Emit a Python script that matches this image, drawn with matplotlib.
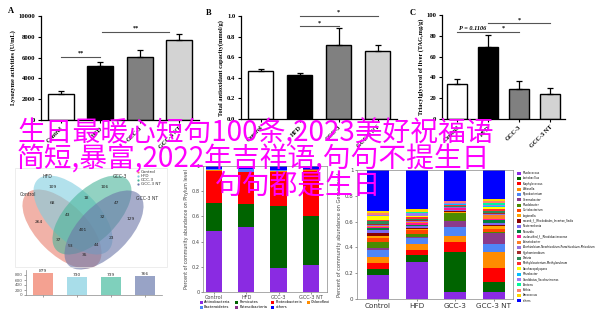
import numpy as np
import matplotlib.pyplot as plt
from matplotlib.patches import Ellipse, Patch, Rectangle

W, H = 600, 311
fig = plt.figure(figsize=(6, 3.11), dpi=100)

groups = ["Control", "HFD", "GCC-3", "GCC-3 NT"]
bar_colors = ["white", "black", "#808080", "#d3d3d3"]

# panel A-C: mean and upper error
lyso_mean = [2500, 5150, 6100, 7650]
lyso_err = [250, 450, 650, 650]
tac_mean = [0.47, 0.43, 0.72, 0.665]
tac_err = [0.02, 0.02, 0.16, 0.055]
tag_mean = [34, 69, 29, 24]
tag_err = [4, 12, 8, 6]

# significance brackets (from, to, height, label)
sig_a = [(0, 1, 6050, "**"), (1.05, 2.75, 8450, "**")]
sig_b = [(1, 2, 0.90, "*"), (1, 3, 1.0, "*")]
sig_c = [(0, 1, 84, "P = 0.1106"), (1, 2, 84, "*"), (1, 3, 92, "*")]

# venn
venn_counts = [109, 106, 68, 18, 47, 43, 32, 264, 129, 401, 37, 23, 53, 44, 35]
venn_pos = [(53, 187), (105, 187), (52, 203), (86, 198), (117, 203), (68, 215),
            (102, 217), (39, 222), (131, 219), (83, 230), (58, 240), (111, 238),
            (70, 246), (97, 245), (85, 255)]
venn_colors = ["#e8806e", "#7fcde0", "#4ab59a", "#6b76a8"]
otu_totals = [879, 730, 739, 766]
otu_colors = ["#f4a191", "#a8dde9", "#7fd0bc", "#98a3c6"]

# phylum level
phyla = ["Actinobacteria", "Firmicutes", "Proteobacteria", "Chloroflexi",
         "Bacteroidetes", "Patescibacteria", "others"]
phylum_colors = ["#8a2be2", "#006400", "#ff0000", "#ff8c00", "#4f86f7", "#8b2f8b", "#0000ff"]
actino = [0.485, 0.512, 0.190, 0.218]
firmi = [0.218, 0.186, 0.494, 0.387]
proteo = [0.260, 0.252, 0.266, 0.358]
chloro = [0.005, 0.006, 0.010, 0.004]
bactero = [0.008, 0.020, 0.008, 0.005]
patesci = [0.004, 0.004, 0.004, 0.005]
phylum_other = [0.020, 0.020, 0.028, 0.023]
phylum_vals = [actino, firmi, proteo, chloro, bactero, patesci, phylum_other]

# genus level
genera = ["Rhodococcus", "Lactobacillus", "Staphylococcus", "Weissella", "Mycobacterium",
          "Gemmobacter", "Rhodobacter", "Curtobacterium", "Legionella",
          "norank_f__Rhodobiales_Incertae_Sedis", "Nesterenkonia", "Nocardia",
          "unclassified_f__Rhodobacteraceae", "Acinetobacter",
          "Allorhizobium-Neorhizobium-Pararhizobium-Rhizobium", "Hyphomicrobium",
          "Dietzia", "Methylobacterium-Methylorubrum", "Saccharopolyspora",
          "Rhizobacter", "Candidatus_Saccharimonas", "Pantoea", "Rothia",
          "Aerococcus", "others"]
genus_colors = ["#8a2be2", "#006400", "#ff0000", "#ff8c00", "#4f86f7", "#8b3a8b",
                "#4b8b00", "#ff4500", "#ffa500", "#8b0000", "#7b68ee", "#008040",
                "#ff1493", "#ff7f24", "#9370db", "#a52a2a", "#2e8b57", "#ff3030",
                "#ffff00", "#00bfff", "#9f79ee", "#00fa9a", "#fa8072", "#ffd700",
                "#0000ff"]
genus_vals = [
    [0.186, 0.289, 0.057, 0.057],
    [0.044, 0.052, 0.310, 0.077],
    [0.047, 0.039, 0.073, 0.104],
    [0.045, 0.050, 0.050, 0.129],
    [0.060, 0.040, 0.066, 0.063],
    [0.012, 0.012, 0.051, 0.079],
    [0.045, 0.020, 0.057, 0.011],
    [0.030, 0.030, 0.006, 0.020],
    [0.020, 0.010, 0.008, 0.025],
    [0.020, 0.012, 0.005, 0.012],
    [0.025, 0.010, 0.004, 0.015],
    [0.015, 0.012, 0.006, 0.020],
    [0.010, 0.010, 0.010, 0.012],
    [0.008, 0.008, 0.006, 0.025],
    [0.010, 0.008, 0.004, 0.010],
    [0.008, 0.012, 0.004, 0.008],
    [0.020, 0.010, 0.006, 0.019],
    [0.010, 0.008, 0.005, 0.015],
    [0.025, 0.008, 0.004, 0.010],
    [0.005, 0.006, 0.005, 0.012],
    [0.005, 0.020, 0.005, 0.008],
    [0.005, 0.006, 0.003, 0.012],
    [0.010, 0.006, 0.012, 0.020],
    [0.020, 0.020, 0.003, 0.010],
    [0.315, 0.302, 0.240, 0.227],
]

overlay = ["生日最暖心短句100条,2023美好祝福语",
           "简短,暴富,2022年吉祥语,句句不提生日",
           "句句都是生日"]


def px_axes(x0, y0, x1, y1):
    return fig.add_axes([x0 / W, 1 - y1 / H, (x1 - x0) / W, (y1 - y0) / H])


serif = dict(family="Liberation Serif", weight="bold")


def bar_panel(ax, means, errs, ymax, step, fmt, ylabel, sigs, width):
    x = np.arange(4)
    ax.bar(x, means, width, color=bar_colors, edgecolor="black", linewidth=1,
           yerr=[np.zeros(4), errs], capsize=2.5,
           error_kw=dict(elinewidth=0.9, capthick=0.9, ecolor="black"))
    ax.set_xlim(-0.5, 3.5)
    ax.set_ylim(0, ymax)
    ticks = np.arange(0, ymax + step / 2, step)
    ax.set_yticks(ticks)
    ax.set_yticklabels([fmt.format(t) for t in ticks], fontsize=4.8, **serif)
    ax.set_xticks(x)
    ax.set_xticklabels(groups, rotation=45, ha="right", rotation_mode="anchor",
                       fontsize=4.5, **serif)
    ax.set_ylabel(ylabel, fontsize=4.6, labelpad=2, **serif)
    for s in ["top", "right"]:
        ax.spines[s].set_visible(False)
    for s in ["left", "bottom"]:
        ax.spines[s].set_linewidth(0.9)
    ax.tick_params(length=2.5, width=0.8, pad=1.5)
    ax.set_facecolor("none")
    for a, b, y, s in sigs:
        ax.plot([a, b], [y, y], color="#555555", lw=0.8, clip_on=False)
        style = "italic" if s.startswith("P") else "normal"
        ax.text((a + b) / 2, y + ymax * 0.01, s, ha="center", va="bottom",
                fontsize=4.5, style=style, family="Liberation Serif", weight="bold")


axA = px_axes(41, 16, 199, 120)
bar_panel(axA, lyso_mean, lyso_err, 10000, 2000, "{:.0f}",
          "Lysozyme activities (U/mL)", sig_a, 0.65)
axB = px_axes(241, 16, 397, 119)
bar_panel(axB, tac_mean, tac_err, 1.0, 0.2, "{:.1f}",
          "Total antioxidant capacity(mmol/g)", sig_b, 0.65)
axC = px_axes(442, 15, 565, 119)
bar_panel(axC, tag_mean, tag_err, 100, 20, "{:.0f}",
          "Triacylglycerol of liver (TAG,mg/g)", sig_c, 0.65)
fig.text(8 / W, 1 - 11 / H, "A", fontsize=6, va="center", **serif)
fig.text(206 / W, 1 - 13 / H, "B", fontsize=6, va="center", **serif)
fig.text(410 / W, 1 - 13 / H, "C", fontsize=6, va="center", **serif)

# venn diagram
axV = px_axes(0, 165, 200, 270)
axV.set_xlim(0, 200)
axV.set_ylim(270, 165)
axV.axis("off")
for (cx, cy, ang), c in zip([(62, 229, 45), (73, 215, 45), (92, 215, -45), (104, 230, -45)],
                            venn_colors):
    axV.add_patch(Ellipse((cx, cy), 100, 50, angle=ang, facecolor=c, alpha=0.6,
                          edgecolor="none"))
for n, (x, y) in zip(venn_counts, venn_pos):
    axV.text(x, y, str(n), fontsize=3.2, ha="center", va="center", color="#222222")
for name, (x, y) in zip(groups, [(28, 194), (47, 177), (120, 176), (147, 198)]):
    axV.text(x, y, name, fontsize=3.3, ha="center", va="center", color="#333333")
for i, (name, c) in enumerate(zip(groups, venn_colors)):
    axV.plot(138, 172 + i * 4, "o", ms=1.6, color=c, mec="none")
    axV.text(141, 172 + i * 4, name, fontsize=3, va="center", color="#333333")
axV.add_patch(Rectangle((15, 168), 152, 99, fill=False, ec="#e6e6e6", lw=0.5))

axO = px_axes(26, 270, 162, 295)
xo = np.arange(4)
axO.bar(xo, otu_totals, 0.59, color=otu_colors)
for xi, v in zip(xo, otu_totals):
    axO.text(xi, v, str(v), fontsize=3.2, ha="center", va="bottom", color="#333333")
axO.set_xlim(-0.5, 3.5)
axO.set_ylim(0, 1000)
axO.set_yticks([0, 200, 400, 600, 800])
axO.set_xticks(xo)
axO.set_xticklabels([])
axO.tick_params(labelsize=3, length=1.5, width=0.4, pad=1, colors="#555555")
for s in ["top", "right"]:
    axO.spines[s].set_visible(False)
for s in ["left", "bottom"]:
    axO.spines[s].set_linewidth(0.5)
    axO.spines[s].set_color("#888888")
axO.set_facecolor("none")

# phylum stacked bars
axP = px_axes(203, 166, 327, 292)
xp = np.arange(4)
bottom = np.zeros(4)
for vals, c, name in zip(phylum_vals, phylum_colors, phyla):
    axP.bar(xp, vals, 0.5, bottom=bottom, color=c, label=name)
    bottom += np.array(vals)
axP.set_xlim(-0.34, 3.5)
axP.set_ylim(0, 1.0)
axP.set_yticks([0, 0.2, 0.4, 0.6, 0.8, 1.0])
axP.set_yticklabels(["0", "0.2", "0.4", "0.6", "0.8", "1"])
axP.set_xticks(xp)
axP.set_xticklabels(groups)
axP.tick_params(labelsize=3.6, length=1.5, width=0.4, pad=1, colors="#444444")
axP.set_ylabel("Percent of community abundance on Phylum level", fontsize=3.4,
               color="#444444", labelpad=2)
for s in axP.spines.values():
    s.set_linewidth(0.5)
    s.set_color("#888888")
h, l = axP.get_legend_handles_labels()
order = [0, 4, 1, 5, 2, 6, 3]
axP.legend([h[i] for i in order], [l[i] for i in order], ncol=4, fontsize=2.6,
           loc="upper center", bbox_to_anchor=(0.5, -0.055), frameon=False,
           handlelength=0.8, handleheight=0.8, handletextpad=0.4,
           columnspacing=1.2, labelspacing=0.3, borderaxespad=0)

# genus stacked bars
axG = px_axes(357, 170, 513, 299)
xg = np.arange(4)
bottom = np.zeros(4)
for vals, c, name in zip(genus_vals, genus_colors, genera):
    axG.bar(xg, vals, 0.57, bottom=bottom, color=c, label=name)
    bottom += np.array(vals)
axG.set_xlim(-0.545, 3.5)
axG.set_ylim(0, 1.0)
axG.set_yticks([0, 0.2, 0.4, 0.6, 0.8, 1.0])
axG.set_yticklabels(["0", "0.2", "0.4", "0.6", "0.8", "1"])
axG.set_xticks(xg)
axG.set_xticklabels(groups, fontsize=5.2)
axG.tick_params(axis="y", labelsize=4, length=1.5, width=0.4, pad=1, colors="#444444")
axG.tick_params(axis="x", length=1.5, width=0.4, pad=1.5, colors="#333333")
axG.set_ylabel("Percent of community abundance on Genus level", fontsize=3.6,
               color="#444444", labelpad=2)
for s in axG.spines.values():
    s.set_linewidth(0.5)
    s.set_color("#888888")
hg, lg = axG.get_legend_handles_labels()
axG.legend(hg, lg, fontsize=1.9, loc="upper left",
           bbox_to_anchor=(517 / W, 1 - 171 / H), bbox_transform=fig.transFigure,
           frameon=False, handlelength=1.4, handleheight=1.4, handletextpad=0.8,
           labelspacing=0.5, borderaxespad=0, borderpad=0)

# overlay text
cjk = ["Noto Sans CJK SC", "DejaVu Sans"]
for txt, (x, y) in zip(overlay, [(17, 134), (17, 160), (215, 186)]):
    fig.text(x / W, 1 - y / H, txt, fontsize=20, color="#ff00ff", va="center",
             ha="left", family=cjk)

fig.savefig("out.png", dpi=100)
